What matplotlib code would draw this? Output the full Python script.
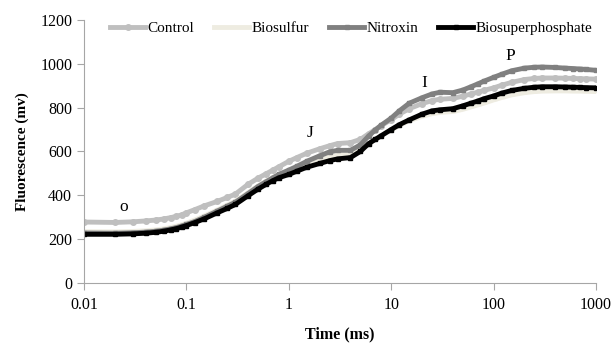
import numpy as np
import matplotlib
matplotlib.use('Agg')
import matplotlib.pyplot as plt
from matplotlib.ticker import FixedLocator, NullLocator

plt.rcParams['font.family'] = ['Liberation Serif', 'DejaVu Serif']

# time points (ms)
time_ms = [0.01, 0.02, 0.03, 0.04, 0.05, 0.06, 0.07, 0.08, 0.09, 0.1,
           0.12, 0.15, 0.2, 0.25, 0.3, 0.4, 0.5, 0.6, 0.7, 0.8,
           1, 1.2, 1.5, 2, 2.5, 3, 4, 5, 6, 7,
           8, 10, 12, 15, 20, 25, 30, 40, 50, 60,
           70, 80, 100, 120, 150, 200, 250, 300, 400, 500,
           600, 700, 800, 1000]

control = [278, 276, 279, 283, 287, 292, 298, 304, 311, 320,
           334, 352, 372, 390, 405, 450, 478, 498, 515, 530,
           555, 572, 592, 612, 626, 636, 640, 655, 680, 700,
           718, 745, 770, 795, 818, 832, 838, 842, 852, 862,
           870, 878, 890, 902, 915, 928, 933, 935, 935, 934,
           933, 932, 931, 930]

biosulfur = [234, 233, 235, 238, 242, 247, 253, 259, 266, 273,
             287, 306, 333, 355, 373, 412, 442, 464, 481, 495,
             512, 527, 545, 563, 575, 582, 588, 605, 635, 655,
             672, 698, 718, 740, 760, 772, 778, 782, 792, 803,
             812, 820, 835, 846, 858, 868, 873, 875, 876, 876,
             875, 875, 874, 873]

nitroxin = [228, 227, 229, 232, 236, 241, 247, 253, 260, 267,
            280, 300, 328, 350, 368, 408, 440, 462, 480, 495,
            515, 532, 555, 580, 598, 605, 605, 630, 670, 698,
            720, 752, 785, 820, 845, 862, 870, 868, 880, 895,
            908, 920, 938, 952, 968, 980, 984, 985, 983, 980,
            978, 976, 974, 970]

biosuperphosphate = [222, 222, 224, 227, 231, 236, 242, 248, 255, 262,
                     275, 293, 320, 340, 358, 398, 428, 450, 467, 480,
                     495, 510, 528, 545, 558, 566, 572, 600, 635, 655,
                     672, 700, 722, 744, 770, 785, 790, 795, 808, 820,
                     830, 840, 853, 866, 878, 888, 893, 895, 895, 894,
                     893, 892, 891, 890]

phase_labels = ['o', 'J', 'I', 'P']
phase_t = [0.0245, 1.6, 21, 145]
phase_v = [347, 685, 913, 1036]

fig = plt.figure(figsize=(6.11, 3.43), dpi=100)
ax = fig.add_axes([0.1375, 0.175, 0.838, 0.767])

ax.plot(time_ms, control, color='#BFBFBF', lw=3.5, marker='o', ms=4, label='Control')
ax.plot(time_ms, biosulfur, color='#EEECE1', lw=3.5, marker='_', ms=4, label='Biosulfur')
ax.plot(time_ms, nitroxin, color='#808080', lw=3.5, marker='s', ms=3.5, label='Nitroxin')
ax.plot(time_ms, biosuperphosphate, color='black', lw=3.5, marker='s', ms=3.5,
        label='Biosuperphosphate')

for s, t, v in zip(phase_labels, phase_t, phase_v):
    ax.text(t, v, s, fontsize=12.5, ha='center', va='center')

ax.set_xscale('log')
ax.set_xlim(0.01, 1000)
ax.set_ylim(0, 1200)
ax.xaxis.set_major_locator(FixedLocator([0.01, 0.1, 1, 10, 100, 1000]))
ax.xaxis.set_minor_locator(NullLocator())
ax.set_xticklabels(['0.01', '0.1', '1', '10', '100', '1000'])
ax.set_yticks(range(0, 1201, 200))

for side in ['top', 'right']:
    ax.spines[side].set_visible(False)
for side in ['left', 'bottom']:
    ax.spines[side].set_color('#A6A6A6')
ax.tick_params(colors='#A6A6A6', labelcolor='black', labelsize=11.5, length=5)
ax.tick_params(axis='x', pad=5)

ax.set_xlabel('Time (ms)', fontsize=11.5, fontweight='bold', labelpad=10)
ax.set_ylabel('Fluorescence (mv)', fontsize=11, fontweight='bold', labelpad=8)

ax.legend(loc='upper center', bbox_to_anchor=(0.522, 1.045), ncol=4, frameon=False,
          fontsize=11, handlelength=2.3, columnspacing=1.3, handletextpad=0.15)

fig.savefig('out.png', dpi=100)
